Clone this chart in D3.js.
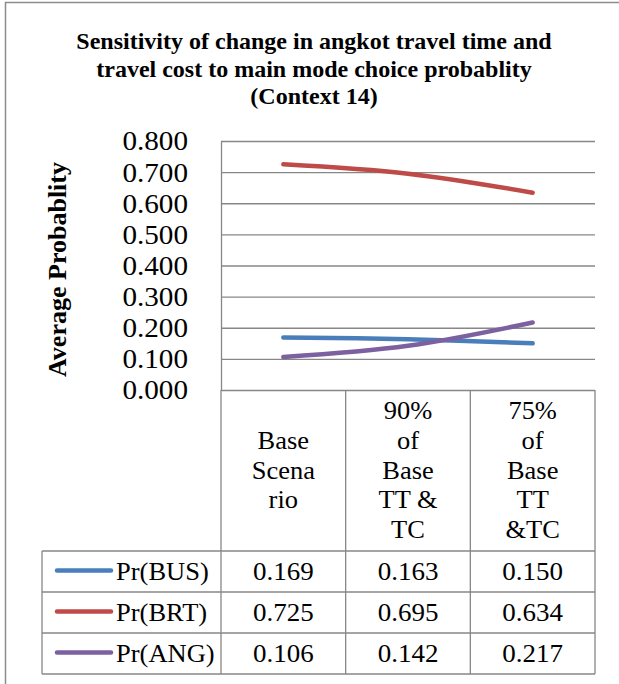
<!DOCTYPE html>
<html>
<head>
<meta charset="utf-8">
<script src="https://cdn.jsdelivr.net/npm/d3@7"></script>
<style>
  html, body { margin: 0; padding: 0; background: #fff; }
  svg { display: block; }
</style>
</head>
<body>
<svg id="chart" width="619" height="684"></svg>
<script>
// ---- data ----
const categories = ["Base Scenario", "90% of Base TT & TC", "75% of Base TT &TC"];
const categoryLines = [
  ["Base", "Scena", "rio"],
  ["90%", "of", "Base", "TT &", "TC"],
  ["75%", "of", "Base", "TT", "&TC"]
];
const seriesNames = ["Pr(BUS)", "Pr(BRT)", "Pr(ANG)"];
const busValues = [0.169, 0.163, 0.150];
const brtValues = [0.725, 0.695, 0.634];
const angValues = [0.106, 0.142, 0.217];
const seriesColors = ["#4a7ebb", "#be4b48", "#7d60a0"];
const yTicks = [0, 0.1, 0.2, 0.3, 0.4, 0.5, 0.6, 0.7, 0.8];
const titleLines = [
  "Sensitivity of change in angkot travel time and",
  "travel cost to main mode choice probablity",
  "(Context 14)"
];
const yTitle = "Average Probablity";

const series = seriesNames.map((n, i) => ({
  name: n, color: seriesColors[i], values: [busValues, brtValues, angValues][i]
}));

// ---- layout ----
const svg = d3.select("#chart");
const plotLeft = 221, plotRight = 595, plotTop = 141, plotBottom = 390;
const headerBottom = 551, rowH = 41, tableLeft = 42;
const gridColor = "#878787";
const serif = "'Liberation Serif', 'Times New Roman', serif";
const STRETCH = 1.08;

// widen glyphs slightly (the original face is wider than Times)
function stretch(sel, f) {
  sel.each(function () {
    const w = this.getComputedTextLength();
    d3.select(this).attr("textLength", w * (f || STRETCH)).attr("lengthAdjust", "spacingAndGlyphs");
  });
}

const x = d3.scaleBand().domain(categories).range([plotLeft, plotRight]);
const y = d3.scaleLinear().domain([0, 0.8]).range([plotBottom, plotTop]);

// outer frame
svg.append("rect").attr("x", 5.5).attr("y", 2.5).attr("width", 640).attr("height", 720)
  .attr("fill", "none").attr("stroke", "#8c8c8c").attr("stroke-width", 1.5);

// title
svg.append("g").selectAll("text").data(titleLines).join("text")
  .attr("x", 314).attr("y", (d, i) => 49 + i * 27.5)
  .attr("text-anchor", "middle")
  .attr("font-family", serif)
  .attr("font-weight", "bold").attr("font-size", 24)
  .attr("fill", "#000")
  .text(d => d);

// gridlines
svg.append("g")
  .attr("transform", `translate(${plotLeft},0)`)
  .call(d3.axisRight(y).tickValues(yTicks).tickSize(plotRight - plotLeft).tickFormat(""))
  .call(g => g.select(".domain").remove())
  .call(g => g.selectAll("line").attr("stroke", gridColor).attr("stroke-width", 1.3));

// y axis
svg.append("g")
  .attr("transform", `translate(${plotLeft},0)`)
  .call(d3.axisLeft(y).tickValues(yTicks).tickSize(0).tickPadding(33).tickFormat(d3.format(".3f")))
  .call(g => g.select(".domain").attr("stroke", gridColor).attr("stroke-width", 1.3))
  .call(g => g.selectAll("text").attr("font-family", serif).attr("font-size", 27).attr("fill", "#000")
    .attr("dy", "0.33em").call(stretch));

// y title
svg.append("text")
  .attr("transform", `translate(66,${(plotTop + plotBottom) / 2 + 4}) rotate(-90)`)
  .attr("text-anchor", "middle")
  .attr("font-family", serif).attr("font-weight", "bold").attr("font-size", 26)
  .attr("textLength", 215).attr("lengthAdjust", "spacingAndGlyphs")
  .text(yTitle);

// lines
const line = d3.line()
  .x((d, i) => x(categories[i]) + x.bandwidth() / 2)
  .y(d => y(d))
  .curve(d3.curveCatmullRom.alpha(0.5));

svg.append("g").selectAll("path").data(series).join("path")
  .attr("d", d => line(d.values))
  .attr("fill", "none").attr("stroke", d => d.color)
  .attr("stroke-width", 4.5).attr("stroke-linecap", "round").attr("stroke-linejoin", "round");

// data table
const tableBottom = headerBottom + rowH * series.length;
const tg = svg.append("g").attr("stroke", gridColor).attr("stroke-width", 1.3);
[plotLeft, ...categories.map(c => x(c) + x.bandwidth())].forEach(xx => {
  tg.append("line").attr("x1", xx).attr("x2", xx).attr("y1", plotBottom).attr("y2", tableBottom);
});
tg.append("line").attr("x1", tableLeft).attr("x2", tableLeft).attr("y1", headerBottom).attr("y2", tableBottom);
for (let r = 0; r <= series.length; r++) {
  const yy = headerBottom + r * rowH;
  tg.append("line").attr("x1", tableLeft).attr("x2", plotRight).attr("y1", yy).attr("y2", yy);
}

// category labels
const headerMid = (plotBottom + headerBottom) / 2;
categories.forEach((c, ci) => {
  const lines = categoryLines[ci];
  const lh = 29.7;
  const g = svg.append("g");
  lines.forEach((l, li) => {
    g.append("text")
      .attr("x", x(c) + x.bandwidth() / 2)
      .attr("y", headerMid + (li - (lines.length - 1) / 2) * lh + 8)
      .attr("text-anchor", "middle")
      .attr("font-family", serif).attr("font-size", 24.5).attr("fill", "#000")
      .text(l);
  });
  g.selectAll("text").call(stretch);
});

// rows
series.forEach((s, si) => {
  const cy = headerBottom + si * rowH + rowH / 2;
  svg.append("line").attr("x1", 57).attr("x2", 111).attr("y1", cy - 1).attr("y2", cy - 1)
    .attr("stroke", s.color).attr("stroke-width", 4.5).attr("stroke-linecap", "round");
  svg.append("text").attr("x", 116).attr("y", cy + 8)
    .attr("font-family", serif).attr("font-size", 25).attr("fill", "#000")
    .text(s.name).call(stretch, 1.06);
  s.values.forEach((v, vi) => {
    svg.append("text")
      .attr("x", x(categories[vi]) + x.bandwidth() / 2).attr("y", cy + 8.5)
      .attr("text-anchor", "middle")
      .attr("font-family", serif).attr("font-size", 25).attr("fill", "#000")
      .text(d3.format(".3f")(v)).call(stretch);
  });
});
</script>
</body>
</html>
